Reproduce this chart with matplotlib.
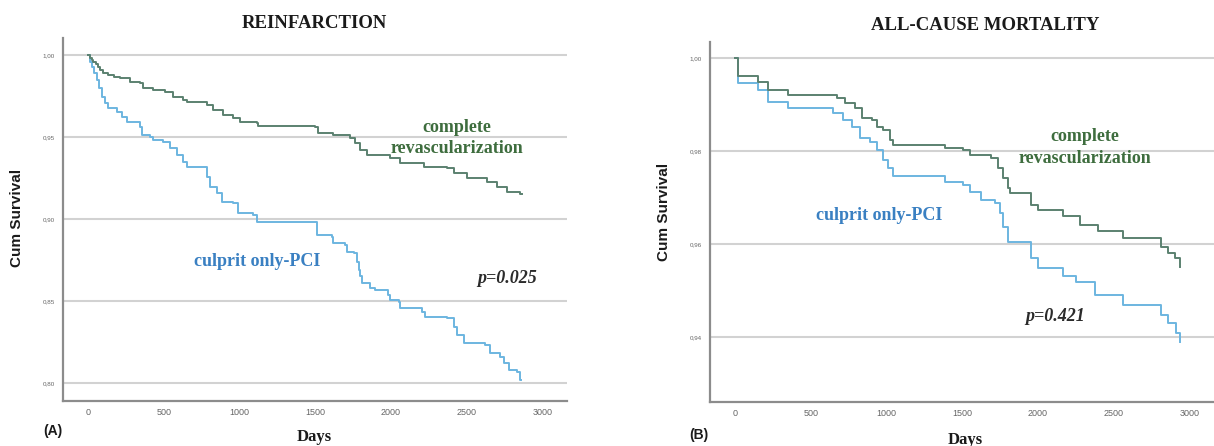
import matplotlib
matplotlib.use("Agg")
import matplotlib.pyplot as plt

# ---------------- data ----------------
# Panel A: REINFARCTION
a_complete_days = [0, 12, 25, 35, 50, 65, 79, 100, 134, 170, 211, 277, 343, 365, 431, 509,
                   563, 629, 652, 784, 828, 894, 960, 1004, 1114, 1125, 1499, 1521, 1620,
                   1730, 1764, 1797, 1840, 1995, 2061, 2215, 2369, 2413, 2501, 2633, 2699,
                   2765, 2853, 2865]
a_complete_surv = [1.0, 0.9985, 0.997, 0.9959, 0.9945, 0.9925, 0.9909, 0.9893, 0.9878, 0.9868,
                   0.9858, 0.9837, 0.9827, 0.9797, 0.9787, 0.9776, 0.9746, 0.9726, 0.9716,
                   0.9695, 0.9665, 0.9634, 0.9614, 0.9594, 0.9583, 0.9567, 0.9559, 0.9523,
                   0.9512, 0.9492, 0.9462, 0.9421, 0.9390, 0.9370, 0.9340, 0.9319, 0.9309,
                   0.9279, 0.9248, 0.9228, 0.9197, 0.9167, 0.9152, 0.9152]

a_culprit_days = [0, 10, 24, 40, 57, 75, 90, 110, 134, 189, 222, 255, 343, 354, 409, 431, 497,
                  541, 585, 629, 652, 784, 806, 850, 883, 960, 993, 1092, 1114, 1510, 1610,
                  1620, 1697, 1709, 1753, 1775, 1786, 1797, 1808, 1863, 1896, 1983, 1995,
                  2050, 2061, 2204, 2226, 2369, 2413, 2435, 2479, 2622, 2655, 2721, 2743,
                  2776, 2831, 2853, 2860]
a_culprit_surv = [1.0, 0.9960, 0.9929, 0.9890, 0.9848, 0.9800, 0.9746, 0.9710, 0.9675, 0.9654,
                  0.9624, 0.9594, 0.9563, 0.9512, 0.9502, 0.9482, 0.9472, 0.9431, 0.9390,
                  0.9350, 0.9319, 0.9258, 0.9197, 0.9157, 0.9106, 0.9096, 0.9035, 0.9024,
                  0.8984, 0.8902, 0.8892, 0.8852, 0.8841, 0.8801, 0.8791, 0.8740, 0.8689,
                  0.8650, 0.8608, 0.8577, 0.8567, 0.8537, 0.8506, 0.8496, 0.8455, 0.8435,
                  0.8404, 0.8394, 0.8343, 0.8293, 0.8242, 0.8232, 0.8181, 0.8161, 0.8120,
                  0.8080, 0.8069, 0.8018, 0.8018]

# Panel B: ALL-CAUSE MORTALITY
b_complete_days = [0, 22, 154, 220, 352, 671, 726, 792, 836, 902, 935, 978, 1022, 1044, 1385,
                   1506, 1550, 1693, 1737, 1770, 1803, 1814, 1957, 2001, 2166, 2276, 2397,
                   2561, 2815, 2858, 2902, 2935, 2940]
b_complete_surv = [1.0, 0.9960, 0.9949, 0.9931, 0.9920, 0.9913, 0.9903, 0.9892, 0.9870,
                   0.9867, 0.9852, 0.9845, 0.9824, 0.9813, 0.9806, 0.9802, 0.9791, 0.9784,
                   0.9763, 0.9741, 0.9720, 0.9709, 0.9684, 0.9673, 0.9659, 0.9641, 0.9627,
                   0.9612, 0.9594, 0.9580, 0.9569, 0.9551, 0.9551]

b_culprit_days = [0, 22, 154, 220, 352, 649, 714, 770, 825, 891, 935, 978, 1011, 1044, 1385,
                  1506, 1550, 1627, 1715, 1748, 1770, 1803, 1957, 2001, 2166, 2254, 2375,
                  2561, 2815, 2858, 2913, 2935, 2940]
b_culprit_surv = [1.0, 0.9945, 0.9931, 0.9906, 0.9892, 0.9881, 0.9867, 0.9852, 0.9827,
                  0.9820, 0.9802, 0.9781, 0.9763, 0.9746, 0.9734, 0.9727, 0.9712, 0.9695,
                  0.9688, 0.9666, 0.9637, 0.9605, 0.9569, 0.9548, 0.9530, 0.9519, 0.9490,
                  0.9469, 0.9447, 0.9429, 0.9408, 0.9390, 0.9390]

x_ticks = [0, 500, 1000, 1500, 2000, 2500, 3000]
a_y_ticks = [0.80, 0.85, 0.90, 0.95, 1.00]
b_y_ticks = [0.94, 0.96, 0.98, 1.00]

titles = ["REINFARCTION", "ALL-CAUSE MORTALITY"]
panel_tags = ["(A)", "(B)"]
p_values = ["p=0.025", "p=0.421"]

# ---------------- style ----------------
GREEN_LINE = "#5b8170"
BLUE_LINE = "#6cb5e0"
GREEN_TXT = "#3e6d3e"
BLUE_TXT = "#3a80c2"
GRID = "#d2d2d2"
SPINE = "#8c8c8c"
SERIF = "Liberation Serif"
SANS = "Liberation Sans"

fig = plt.figure(figsize=(12.14, 4.46), dpi=100)
axA = fig.add_axes([63 / 1214, 1 - 401 / 446, 504 / 1214, 363 / 446])
axB = fig.add_axes([710 / 1214, 1 - 402 / 446, 504 / 1214, 360 / 446])


def style(ax, yticks, ylim):
    ax.set_xlim(-165, 3162)
    ax.set_ylim(*ylim)
    ax.set_xticks(x_ticks)
    ax.set_xticklabels([str(t) for t in x_ticks], fontsize=6.5, color="#666666", family=SANS)
    ax.set_yticks(yticks)
    ax.set_yticklabels([f"{v:.2f}".replace(".", ",") for v in yticks], fontsize=4.5,
                       color="#666666", family=SANS)
    ax.tick_params(length=0, pad=6)
    ax.tick_params(axis="x", pad=5)
    for s in ["top", "right"]:
        ax.spines[s].set_visible(False)
    for s in ["left", "bottom"]:
        ax.spines[s].set_color(SPINE)
        ax.spines[s].set_linewidth(1.6)
    for v in yticks:
        ax.axhline(v, color=GRID, lw=1.5, zorder=0)
    ax.set_facecolor("white")


style(axA, a_y_ticks, (0.789, 1.0104))
style(axB, b_y_ticks, (0.926, 1.0034))

for ax, (cd, cs, ud, us) in zip(
        [axA, axB],
        [(a_complete_days, a_complete_surv, a_culprit_days, a_culprit_surv),
         (b_complete_days, b_complete_surv, b_culprit_days, b_culprit_surv)]):
    ax.step(ud, us, where="post", color=BLUE_LINE, lw=1.4, zorder=3)
    ax.step(cd, cs, where="post", color=GREEN_LINE, lw=1.4, zorder=4)

# curve labels
lab = dict(family=SERIF, fontweight="bold", fontsize=13, ha="center", va="center")
axA.text(2435, 0.9560, "complete", color=GREEN_TXT, **lab)
axA.text(2435, 0.9427, "revascularization", color=GREEN_TXT, **lab)
axA.text(1116, 0.8738, "culprit only-PCI", color=BLUE_TXT, **lab)
axA.text(2767, 0.8640, p_values[0], color="#2b2b2b", style="italic", **lab)

axB.text(2312, 0.9830, "complete", color=GREEN_TXT, **lab)
axB.text(2312, 0.9783, "revascularization", color=GREEN_TXT, **lab)
axB.text(950, 0.9662, "culprit only-PCI", color=BLUE_TXT, **lab)
axB.text(2111, 0.9444, p_values[1], color="#2b2b2b", style="italic", **lab)

# titles
fig.text(314 / 1214, 1 - 23 / 446, titles[0], family=SERIF, fontweight="bold", fontsize=13.5,
         ha="center", va="center", color="#1a1a1a")
fig.text(985 / 1214, 1 - 25 / 446, titles[1], family=SERIF, fontweight="bold", fontsize=13.5,
         ha="center", va="center", color="#1a1a1a")

# axis labels
for xc, yc in [(314, 437), (965, 440)]:
    fig.text(xc / 1214, 1 - yc / 446, "Days", family=SERIF, fontweight="bold", fontsize=12,
             ha="center", va="center", color="#1a1a1a")
for xc, yc in [(17, 218), (664, 212)]:
    fig.text(xc / 1214, 1 - yc / 446, "Cum Survival", family=SANS, fontweight="bold",
             fontsize=11, rotation=90, ha="center", va="center", color="#1a1a1a")
for (xc, yc), tag in zip([(53, 431), (699, 435)], panel_tags):
    fig.text(xc / 1214, 1 - yc / 446, tag, family=SANS, fontweight="bold", fontsize=10,
             ha="center", va="center", color="#1a1a1a")

fig.savefig("out.png", dpi=100, facecolor="white")
